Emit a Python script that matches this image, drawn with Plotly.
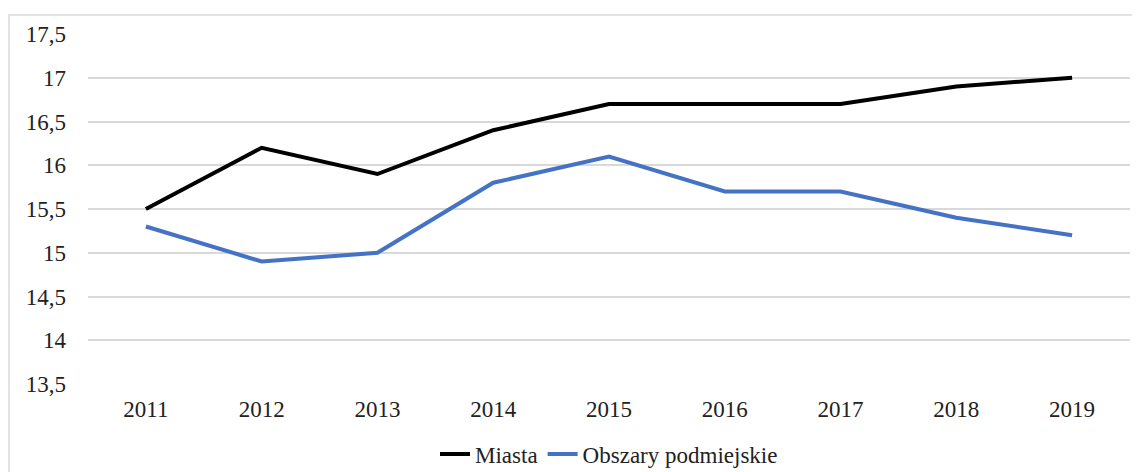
import plotly.graph_objects as go

years = ["2011", "2012", "2013", "2014", "2015", "2016", "2017", "2018", "2019"]
miasta = [15.5, 16.2, 15.9, 16.4, 16.7, 16.7, 16.7, 16.9, 17.0]
obszary = [15.3, 14.9, 15.0, 15.8, 16.1, 15.7, 15.7, 15.4, 15.2]
y_ticks = [13.5, 14, 14.5, 15, 15.5, 16, 16.5, 17, 17.5]

serif = "Liberation Serif, Times New Roman, serif"

fig = go.Figure()
fig.add_trace(go.Scatter(x=years, y=miasta, name="Miasta", mode="lines",
                         line=dict(color="black", width=4)))
fig.add_trace(go.Scatter(x=years, y=obszary, name="Obszary podmiejskie", mode="lines",
                         line=dict(color="#4472C4", width=4)))

# page body adds 8px offset, so figure is sized to fit the window
fig.update_layout(
    width=1132, height=464,
    margin=dict(l=80, r=10, t=26, b=88, autoexpand=False),
    separators=", ",
    paper_bgcolor="white", plot_bgcolor="white",
    font=dict(family=serif, size=23, color="#222"),
    showlegend=True,
    legend=dict(orientation="h", x=0.5, xanchor="center", y=-0.2, yanchor="middle",
                font=dict(family=serif, size=23, color="#222"), itemwidth=30,
                tracegroupgap=0),
    xaxis=dict(type="category", range=[-0.5, 8.5], showgrid=False, showline=False,
               ticks="", ticklen=0, automargin=False, ticklabelstandoff=9,
               tickfont=dict(family=serif, size=23, color="#222")),
    yaxis=dict(range=[13.5, 17.5], tickvals=y_ticks,
               showgrid=True, gridcolor="#d9d9d9", gridwidth=1.5, zeroline=False,
               showline=False, ticks="", automargin=False, ticklabelstandoff=21,
               tickfont=dict(family=serif, size=23, color="#222")),
    shapes=[dict(type="rect", xref="paper", yref="paper", x0=-0.0758, x1=1.02,
                 y0=-0.4, y1=1.054, line=dict(color="#d9d9d9", width=1.5),
                 layer="below")],
)

fig.write_html("out.html")
